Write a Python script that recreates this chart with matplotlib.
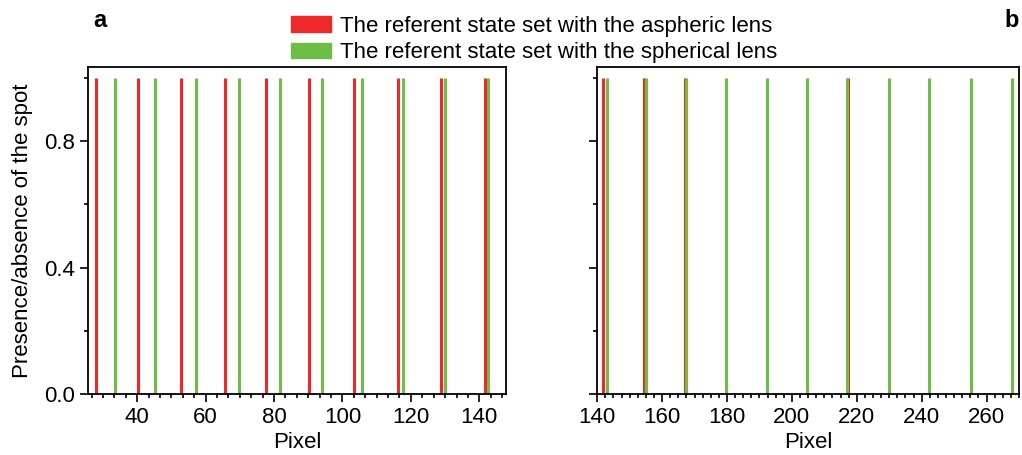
import matplotlib
matplotlib.use("Agg")
import matplotlib.pyplot as plt
from matplotlib.patches import Patch
from matplotlib.ticker import MultipleLocator, AutoMinorLocator

plt.rcParams['font.family'] = ['Liberation Sans', 'DejaVu Sans']

# spot positions (pixel), presence = 1
aspheric_a = [27.9, 40.1, 52.9, 65.6, 77.5, 90.3, 103.5, 116.1, 128.7, 141.7]
spherical_a = [33.5, 45.2, 57.1, 69.7, 81.6, 94.1, 105.8, 117.8, 130.0, 142.6]
aspheric_b = [141.8, 154.4, 167.0, 217.2]
spherical_b = [143.0, 155.0, 167.5, 179.7, 192.2, 204.7, 216.9, 229.9, 242.2, 255.2, 267.7]
presence = 1.0

red = '#EE2828'
green = '#6DBE45'

fig = plt.figure(figsize=(10.22, 4.55), dpi=100)
ax_a = fig.add_axes([0.0864, 0.134, 0.4087, 0.7187])
ax_b = fig.add_axes([0.5844, 0.134, 0.4127, 0.7187])


def draw(ax, red_x, green_x, xlim, minor_n):
    ax.vlines(red_x, 0, presence, colors=red, linewidth=2.2)
    ax.vlines(green_x, 0, presence, colors=green, linewidth=2.2)
    ax.set_xlim(*xlim)
    ax.set_ylim(0, 1.035)
    ax.xaxis.set_major_locator(MultipleLocator(20))
    ax.xaxis.set_minor_locator(AutoMinorLocator(minor_n))
    ax.yaxis.set_major_locator(MultipleLocator(0.4))
    ax.yaxis.set_minor_locator(MultipleLocator(0.2))
    ax.tick_params(which='both', direction='out', top=False, right=False,
                   labelsize=16, width=1.2)
    ax.tick_params(which='major', length=6)
    ax.tick_params(which='minor', length=3)
    for s in ax.spines.values():
        s.set_linewidth(1.3)
    ax.set_xlabel('Pixel', fontsize=16, labelpad=3)


draw(ax_a, aspheric_a, spherical_a, (25.7, 147.8), 6)
draw(ax_b, aspheric_b, spherical_b, (140, 270), 8)

ax_a.set_ylabel('Presence/absence of the spot', fontsize=16, labelpad=8)
ax_a.yaxis.set_major_formatter(plt.FuncFormatter(lambda v, p: f'{v:.1f}'))
ax_b.tick_params(axis='y', labelleft=False)

fig.text(0.098, 0.955, 'a', fontsize=17, fontweight='bold', ha='center', va='center')
fig.text(0.99, 0.955, 'b', fontsize=17, fontweight='bold', ha='center', va='center')

handles = [Patch(color=red), Patch(color=green)]
labels = ['The referent state set with the aspheric lens',
          'The referent state set with the spherical lens']
fig.legend(handles, labels, loc='upper left', bbox_to_anchor=(0.267, 1.005),
           frameon=False, fontsize=16, handlelength=1.8, handleheight=0.7,
           handletextpad=0.4, labelspacing=0.25, borderpad=0.3)

fig.savefig('out.png', dpi=100)
